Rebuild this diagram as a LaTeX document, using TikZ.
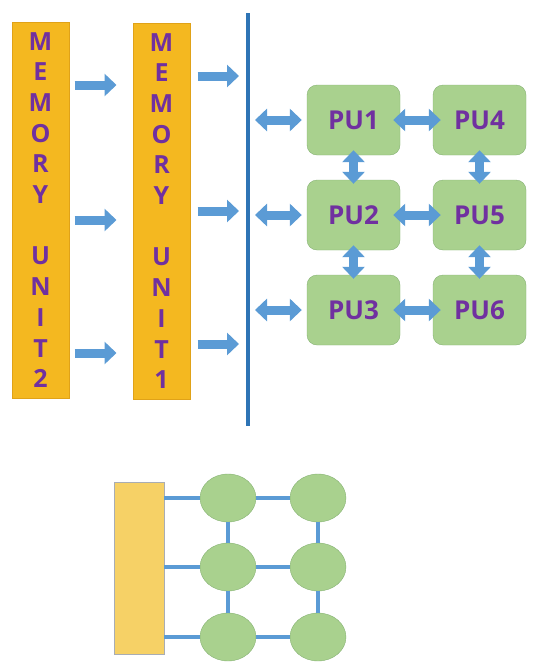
\documentclass[tikz,border=0pt]{standalone}
\usepackage{fontspec}
\setmainfont{Open Sans}
\usetikzlibrary{positioning,arrows.meta,shapes.geometric}
\definecolor{memgold}{HTML}{F4B820}
\definecolor{memedge}{HTML}{E0A218}
\definecolor{puviolet}{HTML}{7030A0}
\definecolor{pugreen}{HTML}{A9D18E}
\definecolor{puedge}{HTML}{86B274}
\definecolor{flowblue}{HTML}{5B9BD5}
\definecolor{busblue}{HTML}{2E74B5}
\definecolor{baseyellow}{HTML}{F6D166}
\definecolor{basegray}{HTML}{A8ADB4}

\begin{document}
\begin{tikzpicture}[x=1pt,y=-1pt,node distance =95pt and 126pt ,on grid ,
memory/.style ={rectangle ,draw=memedge ,fill=memgold ,line width=1pt ,
 minimum width=57pt ,minimum height=376pt ,inner sep=0pt ,text=puviolet ,
 align=center ,font=\bfseries\fontsize{25}{30.7}\selectfont},
pu/.style ={rectangle ,rounded corners=10pt ,draw=puedge ,fill=pugreen ,
 minimum width=93pt ,minimum height=70pt ,inner sep=0pt ,text=puviolet ,
 font=\bfseries\fontsize{26}{30}\selectfont},
flow/.style ={draw=flowblue ,line width=9pt ,-{Triangle[length=12pt,width=22pt]}},
duplex/.style ={draw=flowblue ,line width=9pt ,
 {Triangle[length=12pt,width=22pt]}-{Triangle[length=12pt,width=22pt]}},
base/.style ={rectangle ,draw=basegray ,fill=baseyellow ,minimum width=50pt ,
 minimum height=172pt ,inner sep=0pt},
cell/.style ={ellipse ,draw=puedge ,fill=pugreen ,minimum width=56pt ,
 minimum height=48pt ,inner sep=0pt},
link/.style ={draw=flowblue ,line width=4pt}
]
\useasboundingbox (0,0) rectangle (547,667);

% memory units and bus
\node[memory] (mu2) at (40.5,210) {M\\E\\M\\O\\R\\Y\\~\\U\\N\\I\\T\\2};
\node[memory] (mu1) at (161.5,211) {M\\E\\M\\O\\R\\Y\\~\\U\\N\\I\\T\\1};
\coordinate (bustop) at (248,13);
\coordinate (busbot) at (248,426);
\draw[busblue, line width=4.5pt] (bustop) -- (busbot);

\foreach \y in {85,220,353}
  \draw[flow, shorten <=5pt, shorten >=16pt] (mu2.east |- 0,\y) -- (mu1.west |- 0,\y);
\foreach \y in {76,211,344}
  \draw[flow, shorten <=7pt, shorten >=9pt] (mu1.east |- 0,\y) -- (bustop |- 0,\y);

% processing units
\node[pu] (pu1) at (353.5,120) {PU1};
\node[pu] (pu2) [below = of pu1] {PU2};
\node[pu] (pu3) [below = of pu2] {PU3};
\node[pu] (pu4) [right = of pu1] {PU4};
\node[pu] (pu5) [right = of pu2] {PU5};
\node[pu] (pu6) [right = of pu3] {PU6};

\draw[duplex, shorten <=7pt, shorten >=5pt] (bustop |- pu1) -- (pu1);
\draw[duplex, shorten <=7pt, shorten >=5pt] (bustop |- pu2) -- (pu2);
\draw[duplex, shorten <=7pt, shorten >=5pt] (bustop |- pu3) -- (pu3);
\draw[duplex, shorten <=-7pt, shorten >=-8pt] (pu1) -- (pu4);
\draw[duplex, shorten <=-7pt, shorten >=-8pt] (pu2) -- (pu5);
\draw[duplex, shorten <=-7pt, shorten >=-8pt] (pu3) -- (pu6);
\draw[duplex, shorten <=-5pt, shorten >=-4pt] (pu1) -- (pu2);
\draw[duplex, shorten <=-5pt, shorten >=-4pt] (pu2) -- (pu3);
\draw[duplex, shorten <=-5pt, shorten >=-4pt] (pu4) -- (pu5);
\draw[duplex, shorten <=-5pt, shorten >=-4pt] (pu5) -- (pu6);

% mesh sketch
\node[base] (base) at (139,568) {};
\node[cell] (c1) at (228,498) {};
\node[cell] (c2) [below = 69pt of c1] {};
\node[cell] (c3) [below = 70pt of c2] {};
\node[cell] (c4) [right = 90pt of c1] {};
\node[cell] (c5) [right = 90pt of c2] {};
\node[cell] (c6) [right = 90pt of c3] {};

\draw[link] (c1 -| base.east) -- (c1);
\draw[link] (c2 -| base.east) -- (c2);
\draw[link] (c3 -| base.east) -- (c3);
\draw[link] (c1) -- (c4);
\draw[link] (c2) -- (c5);
\draw[link] (c3) -- (c6);
\draw[link] (c1) -- (c2);
\draw[link] (c2) -- (c3);
\draw[link] (c4) -- (c5);
\draw[link] (c5) -- (c6);
\end{tikzpicture}
\end{document}
